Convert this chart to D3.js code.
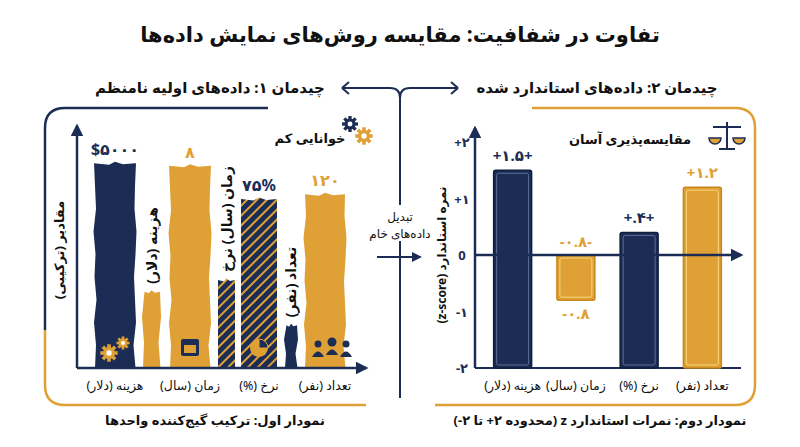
<!DOCTYPE html>
<html><head><meta charset="utf-8">
<script src="https://cdn.jsdelivr.net/npm/d3@7"></script>
<style>
body{margin:0;background:#fff;}
text{font-family:"Noto Sans","DejaVu Sans",sans-serif;direction:rtl;unicode-bidi:embed;}
text.ltr{direction:ltr;}
</style></head>
<body>
<div id="chart"></div>
<script>
// data
const categories = ["هزینه (دلار)", "زمان (سال)", "نرخ (%)", "تعداد (نفر)"];
// left chart: mixed-unit heights on a 0-100 "combined" scale
const rawHeights = [86, 85, 71, 73];
const rawLabels = ["$۵۰۰۰", "۸", "۷۵%", "۱۲۰"];
const rawKinds = ["navy", "gold", "hatch", "gold"];
const sideHeights = [32, 37, 18];
const sideLabels = ["هزینه (دلار)", "زمان (سال) نرخ", "تعداد (نفر)"];
const sideKinds = ["gold", "hatch", "navy"];
// right chart: z-scores
const zValues = [1.5, -0.8, 0.4, 1.2];
const zLabels = ["+۱.۵+", "-۰.۸-", "+.۴+", "+۱.۲"];
const zTicks = [2, 1, 0, -1, -2];
const zTickLabels = ["+۲", "+۱", "0", "-۱", "-۲"];
const zKinds = ["navy", "gold", "navy", "gold"];

const NAVY = "#1c2d55", GOLD = "#dfa136";
const W = 800, H = 447;
const svg = d3.select("#chart").append("svg").attr("width", W).attr("height", H);
const defs = svg.append("defs");
const pat = defs.append("pattern").attr("id", "hatch").attr("patternUnits", "userSpaceOnUse")
    .attr("width", 7).attr("height", 7).attr("patternTransform", "rotate(45)");
pat.append("rect").attr("width", 7).attr("height", 7).attr("fill", NAVY);
pat.append("rect").attr("width", 2).attr("height", 7).attr("fill", GOLD);
defs.append("marker").attr("id", "arr").attr("viewBox", "0 0 10 10").attr("refX", 8).attr("refY", 5)
    .attr("markerWidth", 5).attr("markerHeight", 5).attr("orient", "auto")
    .append("path").attr("d", "M0,0 L10,5 L0,10 z").attr("fill", NAVY);
const fillOf = k => k === "navy" ? NAVY : k === "gold" ? GOLD : "url(#hatch)";
const txt = (g, x, y, s, size, bold, col) => g.append("text").attr("x", x).attr("y", y).attr("text-anchor", "middle")
    .attr("font-size", size).attr("font-weight", bold ? 700 : 400).attr("fill", col || "#111").text(s);

// titles
txt(svg, 400, 42, "تفاوت در شفافیت: مقایسه روش‌های نمایش داده‌ها", 21, true);
txt(svg, 210, 93, "چیدمان ۱: داده‌های اولیه نامنظم", 15, true);
txt(svg, 597, 93, "چیدمان ۲: داده‌های استاندارد شده", 15, true);

// center connector
const c = svg.append("g").attr("fill", "none").attr("stroke", NAVY).attr("stroke-width", 2);
c.append("path").attr("d", "M342,88 L390,88 Q400,88 400,98 L400,398");
c.append("path").attr("d", "M458,88 L410,88 Q400,88 400,98");
c.append("path").attr("d", "M342,88 l7,-6 M342,88 l7,6 M458,88 l-7,-6 M458,88 l-7,6");
c.append("line").attr("x1", 377).attr("y1", 257).attr("x2", 420).attr("y2", 257).attr("marker-end", "url(#arr)");
svg.append("rect").attr("x", 368).attr("y", 205).attr("width", 64).attr("height", 36).attr("fill", "#fff");
txt(svg, 400, 221, "تبدیل", 12, false);
txt(svg, 400, 238, "داده‌های خام", 12, false);

// panel frames
svg.append("path").attr("d", "M268,108 L65,108 Q45,108 45,128 L45,330").attr("fill", "none").attr("stroke", NAVY).attr("stroke-width", 2.5);
svg.append("path").attr("d", "M45,330 L45,385 Q45,405 65,405 L366,405").attr("fill", "none").attr("stroke", GOLD).attr("stroke-width", 2.5);
svg.append("path").attr("d", "M532,108 L735,108 Q755,108 755,128 L755,385 Q755,405 735,405 L435,405").attr("fill", "none").attr("stroke", GOLD).attr("stroke-width", 2.5);

// ---------- left chart ----------
const yL = d3.scaleLinear().domain([0, 100]).range([368, 130]);
const mainX = [95, 170, 241, 305], mainW = [40, 40, 36, 40];
const sideX = [143, 218, 285], sideW = [17, 17, 12];
const jag = [0, 1, -1, 1.5, -0.5, 0.5, -1.5, 1, 0, -1, 0.5, 1.5, -0.5, 0, 1, -1];
function rough(x, w, top, hatch) {
    const bot = yL(0), a = hatch ? 0 : 1;
    let p = `M${x},${bot}`;
    const n = Math.max(3, Math.round((bot - top) / 22));
    for (let i = 0; i <= n; i++) p += ` L${x + jag[i % 16] * a},${bot - (bot - top) * i / n}`;
    p += ` L${x + w * 0.35},${top + 1.5} L${x + w * 0.5},${top - 1.5} L${x + w * 0.7},${top + 1} L${x + w},${top}`;
    for (let i = n; i >= 0; i--) p += ` L${x + w + jag[(i + 5) % 16] * a},${bot - (bot - top) * i / n}`;
    return p + " Z";
}
const gL = svg.append("g");
rawHeights.forEach((v, i) => {
    gL.append("path").attr("d", rough(mainX[i], mainW[i], yL(v), rawKinds[i] === "hatch")).attr("fill", fillOf(rawKinds[i]));
    txt(gL, mainX[i] + mainW[i] / 2, yL(v) - 8, rawLabels[i], 16, true, rawKinds[i] === "gold" ? GOLD : NAVY).attr("class", "ltr");
    txt(gL, mainX[i] + mainW[i] / 2, 390, categories[i], 12.5, false);
});
sideHeights.forEach((v, i) => {
    gL.append("path").attr("d", rough(sideX[i], sideW[i], yL(v), sideKinds[i] === "hatch")).attr("fill", fillOf(sideKinds[i]));
    const cx = sideX[i] + sideW[i] / 2, top = yL(v);
    const t = gL.append("text").attr("text-anchor", "middle").attr("font-size", 14).attr("font-weight", 700).attr("fill", "#111").text(sideLabels[i]);
    const len = t.node().getComputedTextLength();
    t.attr("transform", `translate(${cx + 5},${top - 8 - len / 2}) rotate(-90)`);
});
// icons
function gear(g, cx, cy, r, col) {
    for (let k = 0; k < 4; k++) g.append("rect").attr("x", cx - r * 0.3).attr("y", cy - r * 1.45).attr("width", r * 0.6).attr("height", r * 2.9)
        .attr("fill", col).attr("transform", `rotate(${k * 45},${cx},${cy})`);
    g.append("circle").attr("cx", cx).attr("cy", cy).attr("r", r).attr("fill", col);
    g.append("circle").attr("cx", cx).attr("cy", cy).attr("r", r * 0.45).attr("fill", "#fff");
}
gear(gL, 109, 353, 6, GOLD); gear(gL, 123, 343, 4.5, GOLD);
gear(gL, 350, 124, 5.5, NAVY); gear(gL, 364, 136, 6, GOLD);
gL.append("rect").attr("x", 181).attr("y", 339).attr("width", 18).attr("height", 17).attr("rx", 2).attr("fill", NAVY);
gL.append("rect").attr("x", 184).attr("y", 345).attr("width", 12).attr("height", 8).attr("fill", GOLD);
gL.append("circle").attr("cx", 259).attr("cy", 348).attr("r", 9).attr("fill", GOLD);
gL.append("path").attr("d", "M259,348 L259,339 A9,9 0 0 1 268,348 Z").attr("fill", NAVY).attr("stroke", GOLD);
[[318, 350], [332, 348], [346, 350]].forEach(([x, y], k) => {
    gL.append("circle").attr("cx", x).attr("cy", y - 6).attr("r", k === 1 ? 4.5 : 3.5).attr("fill", NAVY);
    gL.append("path").attr("d", `M${x - 6},${y + 7} Q${x},${y - 4} ${x + 6},${y + 7} Z`).attr("fill", NAVY);
});
txt(gL, 310, 143, "خوانایی کم", 13, true);
// axes
gL.append("line").attr("x1", 77).attr("y1", yL(0)).attr("x2", 77).attr("y2", 126).attr("stroke", NAVY).attr("stroke-width", 2.5).attr("marker-end", "url(#arr)");
gL.append("line").attr("x1", 77).attr("y1", yL(0)).attr("x2", 366).attr("y2", yL(0)).attr("stroke", NAVY).attr("stroke-width", 2.5).attr("marker-end", "url(#arr)");
txt(gL, 0, 0, "مقادیر (ترکیبی)", 13, true).attr("transform", "translate(64,250) rotate(-90)");
txt(svg, 215, 425, "نمودار اول: ترکیب گیج‌کننده واحدها", 13, true);

// ---------- right chart ----------
const yR = d3.scaleLinear().domain([-2, 2]).range([368, 142]);
const xR = d3.scaleBand().domain(categories).range([481, 734]).paddingInner(0.4).paddingOuter(0.2);
const gR = svg.append("g");
gR.append("line").attr("x1", 475).attr("y1", yR(-2)).attr("x2", 475).attr("y2", 128).attr("stroke", NAVY).attr("stroke-width", 2.5).attr("marker-end", "url(#arr)");
gR.append("line").attr("x1", 475).attr("y1", yR(-2)).attr("x2", 741).attr("y2", yR(-2)).attr("stroke", NAVY).attr("stroke-width", 2);
zTicks.forEach((t, i) => txt(gR, 462, yR(t) + 5, zTickLabels[i], 13, true, NAVY).attr("class", "ltr"));
zValues.forEach((v, i) => {
    const x = xR(categories[i]), w = xR.bandwidth(), col = zKinds[i] === "navy" ? NAVY : GOLD;
    const top = v >= 0 ? yR(v) : yR(0), bot = v >= 0 ? yR(-2) : yR(v);
    gR.append("rect").attr("x", x).attr("y", top).attr("width", w).attr("height", bot - top).attr("rx", 2)
        .attr("fill", col).attr("stroke", zKinds[i] === "navy" ? "#0f1c3a" : "#c8871c").attr("stroke-width", 1.5);
    gR.append("rect").attr("x", x + 3).attr("y", top + 3).attr("width", w - 6).attr("height", bot - top - 6).attr("rx", 2)
        .attr("fill", "none").attr("stroke", zKinds[i] === "navy" ? "#5a6f9a" : "#f7d57a").attr("stroke-width", 1);
    txt(gR, x + w / 2, v >= 0 ? yR(v) - 9 : yR(0) - 8, zLabels[i], 15, true, col).attr("class", "ltr");
    txt(gR, x + w / 2, 390, categories[i], 12.5, false);
});
txt(gR, 576, yR(-0.8) + 19, "-۰.۸", 15, true, GOLD).attr("class", "ltr");
gR.append("line").attr("x1", 475).attr("y1", yR(0)).attr("x2", 741).attr("y2", yR(0)).attr("stroke", NAVY).attr("stroke-width", 2.5).attr("marker-end", "url(#arr)");
txt(gR, 0, 0, "نمره استاندارد (z-score)", 12, true).attr("transform", `translate(446,${yR(0)}) rotate(-90)`);
txt(gR, 630, 144, "مقایسه‌پذیری آسان", 13, true);
// scales icon
const s = gR.append("g").attr("stroke", NAVY).attr("stroke-width", 2).attr("fill", "none");
s.append("line").attr("x1", 727).attr("y1", 122).attr("x2", 727).attr("y2", 148);
s.append("line").attr("x1", 713).attr("y1", 127).attr("x2", 741).attr("y2", 127);
s.append("line").attr("x1", 719).attr("y1", 149).attr("x2", 735).attr("y2", 149);
gR.append("path").attr("d", "M709,138 A6,6 0 0 0 721,138 Z M733,138 A6,6 0 0 0 745,138 Z").attr("fill", GOLD).attr("stroke", NAVY).attr("stroke-width", 1.5);
txt(svg, 600, 425, "نمودار دوم: نمرات استاندارد z (محدوده ۲+ تا ۲-)", 13, true);
</script>
</body></html>
